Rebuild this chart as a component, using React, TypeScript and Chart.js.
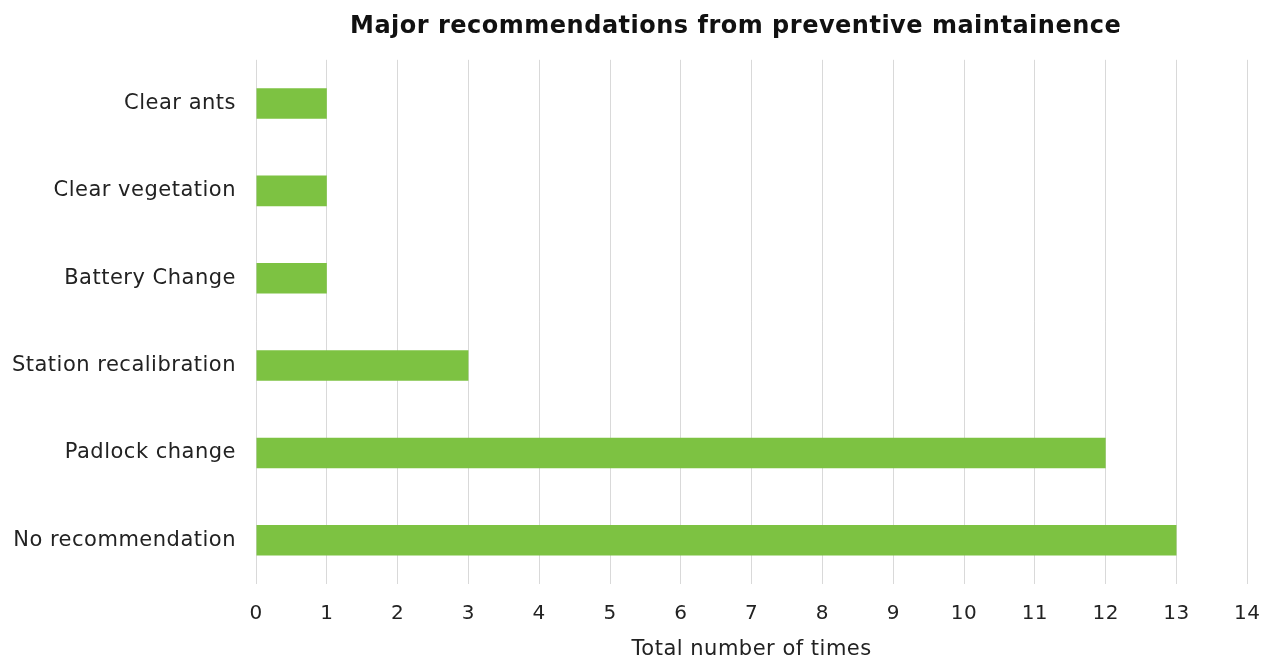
import React, { useEffect, useRef } from "react";
import { Chart, registerables } from "chart.js";

Chart.register(...registerables);

const categories = [
  "Clear ants",
  "Clear vegetation",
  "Battery Change",
  "Station recalibration",
  "Padlock change",
  "No recommendation",
];
const counts = [1, 1, 1, 3, 12, 13];
const xMin = 0;
const xMax = 14;
const chartTitle = "Major recommendations from preventive maintainence";
const xAxisTitle = "Total number of times";

const textTweaksPlugin = {
  id: "textTweaks",
  afterLayout(chart: any) {
    if (chart.titleBlock && chart.chartArea) {
      chart.titleBlock.left = chart.chartArea.left - 32;
    }
  },
  beforeDraw(chart: any) {
    try {
      chart.ctx.letterSpacing = "0.5px";
    } catch (e) {}
  },
};

export default function App() {
  const canvasRef = useRef<HTMLCanvasElement | null>(null);

  useEffect(() => {
    if (!canvasRef.current) return;
    const font = "'DejaVu Sans', Verdana, sans-serif";
    const chart = new Chart(canvasRef.current, {
      type: "bar",
      data: {
        labels: categories,
        datasets: [
          {
            data: counts,
            backgroundColor: "#7DC242",
            borderWidth: 0,
            categoryPercentage: 1,
            barPercentage: 0.35,
          },
        ],
      },
      plugins: [textTweaksPlugin],
      options: {
        indexAxis: "y",
        animation: false,
        responsive: false,
        maintainAspectRatio: false,
        layout: { padding: { left: 8, right: 29, top: 9, bottom: 2 } },
        plugins: {
          legend: { display: false },
          tooltip: { enabled: false },
          title: {
            display: true,
            fullSize: false,
            text: chartTitle,
            color: "#111",
            font: { family: font, size: 24, weight: "bold" },
            padding: { top: 3, bottom: 19 },
          },
        },
        scales: {
          x: {
            type: "linear",
            min: xMin,
            max: xMax,
            ticks: {
              stepSize: 1,
              color: "#222",
              font: { family: font, size: 20 },
              padding: 18,
            },
            grid: { color: "#d9d9d9", drawTicks: false, lineWidth: 1 },
            border: { display: false },
            title: {
              display: true,
              text: xAxisTitle,
              color: "#222",
              font: { family: font, size: 21 },
              padding: { top: 2, bottom: 0 },
            },
            afterFit: (scale: any) => {
              scale.height = 78;
            },
          },
          y: {
            ticks: {
              color: "#222",
              font: { family: font, size: 21 },
              padding: 20,
            },
            grid: { display: false, drawTicks: false },
            border: { display: false },
            afterFit: (scale: any) => {
              scale.width = 248;
            },
          },
        },
      },
    });
    return () => chart.destroy();
  }, []);

  return (
    <div style={{ position: "fixed", left: 0, top: 0, width: 1278, height: 664, background: "#fff" }}>
      <canvas ref={canvasRef} width={1278} height={664} />
    </div>
  );
}
